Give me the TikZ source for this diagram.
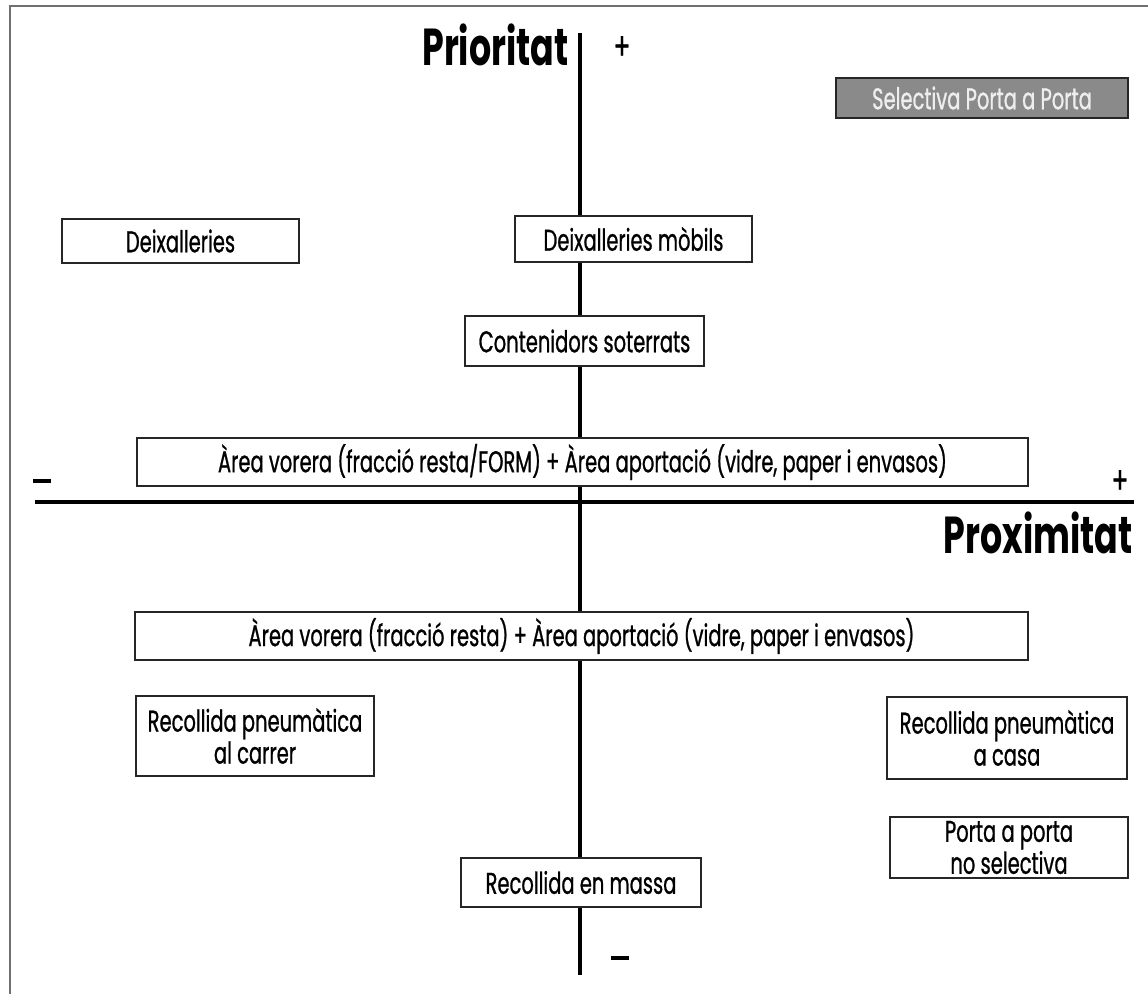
\documentclass[tikz,border=0pt]{standalone}
\usepackage{fontspec}
\setmainfont[FakeStretch=0.65,FakeBold=0.8]{Poppins}
\newfontfamily\titlefont[FakeStretch=0.67]{Poppins}
\definecolor{framegray}{HTML}{707070}
\definecolor{boxgray}{HTML}{8A8A8A}
\definecolor{lighttext}{HTML}{EEEEEE}
\begin{document}
\begin{tikzpicture}[x=0.5pt,y=-0.5pt,
  box/.style={draw=black!85,line width=1pt,fill=white,inner sep=0pt,align=center,font=\fontsize{15}{16}\selectfont},
  axis/.style={line width=1.6pt},
  title/.style={font=\titlefont\fontsize{26}{28}\selectfont\bfseries,inner sep=0pt},
  sign/.style={font=\fontsize{19}{20}\selectfont,inner sep=0pt},
  minus/.style={fill=black,minimum width=9pt,minimum height=2pt,inner sep=0pt}]
\useasboundingbox (0,0) rectangle (1148,994);
\fill[white] (0,0) rectangle (1148,994);
% frame
\coordinate (fb) at (10,994);
\coordinate (fc) at (10,6);
\coordinate (fr) at (1148,6);
\draw[framegray,line width=1.2pt] (fb) -- (fc) -- (fr);
% axes
\coordinate (vt) at (580,33);
\coordinate (vb) at (580,975);
\coordinate (hl) at (35,502);
\coordinate (hr) at (1134,502);
\draw[axis] (vt) -- (vb);
\draw[axis] (hl) -- (hr);
% titles and signs
\node[title,anchor=east] (prio) at (569,45) {Prioritat};
\node[sign] (pt) at (622,48) {+};
\node[minus] (hm) at (42,481) {};
\node[sign] (hp) at (1120,482) {+};
\node[title,anchor=east] (prox) at (1133,533) {Proximitat};
\node[minus] (vm) at (620,958) {};
% boxes
\node[box,fill=boxgray,text=lighttext,minimum width=146pt,minimum height=20pt] (sel) at (982,98) {Selectiva Porta a Porta};
\node[box,minimum width=118.5pt,minimum height=22pt] (deix) at (180.5,241) {Deixalleries};
\node[box,minimum width=118.5pt,minimum height=23pt] (deixm) at (633.5,239) {Deixalleries mòbils};
\node[box,minimum width=119.5pt,minimum height=25pt] (cont) at (584.5,341) {Contenidors soterrats};
\node[box,minimum width=445.5pt,minimum height=24pt] (area1) at (582.5,462) {Àrea vorera (fracció resta/FORM) + Àrea aportació (vidre, paper i envasos)};
\node[box,minimum width=446.5pt,minimum height=24pt] (area2) at (581.5,636) {Àrea vorera (fracció resta) + Àrea aportació (vidre, paper i envasos)};
\node[box,minimum width=119pt,minimum height=40pt] (rpc) at (255,736) {Recollida pneumàtica\\al carrer};
\node[box,minimum width=120pt,minimum height=41pt] (rpcasa) at (1007,738) {Recollida pneumàtica\\a casa};
\node[box,minimum width=119pt,minimum height=30.5pt] (pap) at (1009,847.5) {Porta a porta\\no selectiva};
\node[box,minimum width=120pt,minimum height=24.5pt] (massa) at (581,882.5) {Recollida en massa};
\end{tikzpicture}
\end{document}
